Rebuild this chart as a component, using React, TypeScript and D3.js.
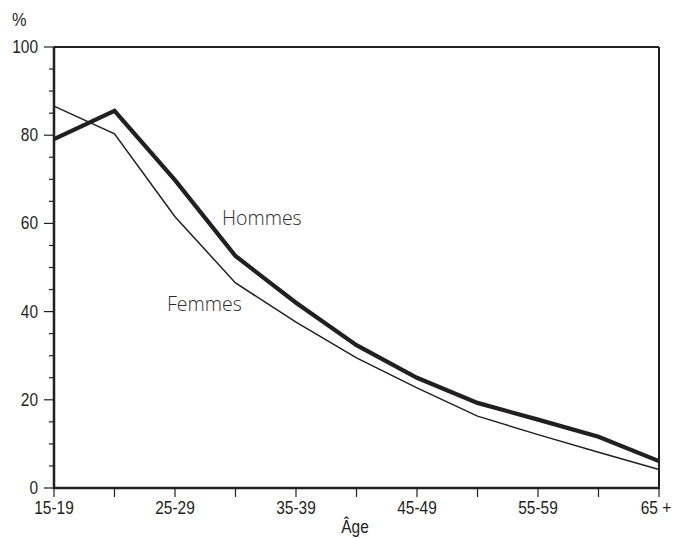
import React from "react";
import * as d3 from "d3";

const categories = ["15-19", "20-24", "25-29", "30-34", "35-39", "40-44", "45-49", "50-54", "55-59", "60-64", "65 +"];
const hommes = [79.1, 85.5, 69.8, 52.6, 42.0, 32.4, 25.0, 19.3, 15.5, 11.6, 6.1];
const femmes = [86.6, 80.3, 61.5, 46.5, 37.6, 29.5, 22.7, 16.3, 12.1, 8.1, 4.2];
const yMajor = [0, 20, 40, 60, 80, 100];
const yMinor = [5, 10, 15, 25, 30, 35, 45, 50, 55, 65, 70, 75, 85, 90, 95];
const shownLabels = ["15-19", "25-29", "35-39", "45-49", "55-59", "65 +"];

const ink = "#231f20";
const tickFont = "'Liberation Sans', Arial, sans-serif";

function CText({ x, y, anchor, children, size = 18 }: { x: number; y: number; anchor: string; children: any; size?: number }) {
  return (
    <text
      transform={`translate(${x},${y}) scale(0.86,1)`}
      textAnchor={anchor}
      fontFamily={tickFont}
      fontSize={size}
      fill={ink}
    >
      {children}
    </text>
  );
}

export default function App() {
  const W = 673, H = 539;
  const left = 54, right = 659, top = 47, bottom = 488;
  const x = d3.scalePoint<string>().domain(categories).range([left, right]);
  const y = d3.scaleLinear().domain([0, 100]).range([bottom, top]);
  const line = d3.line<number>().x((_, i) => x(categories[i])!).y((d) => y(d));
  return (
    <svg width={W} height={H} style={{ position: "absolute", left: 0, top: 0 }}>
      <rect width={W} height={H} fill="#fff" />
      {/* frame */}
      <line x1={left} x2={right} y1={top} y2={top} stroke={ink} strokeWidth={2} />
      <line x1={right} x2={right} y1={top} y2={bottom} stroke={ink} strokeWidth={2} />
      <line x1={left} x2={left} y1={top} y2={bottom + 1} stroke={ink} strokeWidth={2.5} />
      <line x1={left - 1} x2={right + 1} y1={bottom} y2={bottom} stroke={ink} strokeWidth={2.5} />
      {/* y ticks */}
      {yMajor.map((v) => (
        <g key={"M" + v}>
          <line x1={left - 10} x2={left} y1={y(v)} y2={y(v)} stroke={ink} strokeWidth={1.2} />
          <CText x={left - 16} y={y(v) + 6} anchor="end">{v}</CText>
        </g>
      ))}
      {yMinor.map((v) => (
        <line key={"m" + v} x1={left - 5} x2={left} y1={y(v)} y2={y(v)} stroke={ink} strokeWidth={1.2} />
      ))}
      {/* x ticks */}
      {categories.map((c, i) => (
        <g key={c}>
          <line x1={x(c)!} x2={x(c)!} y1={bottom} y2={bottom + 9} stroke={ink} strokeWidth={1.2} />
          {shownLabels.includes(c) && (
            <CText x={x(c)! - (i === categories.length - 1 ? 3 : 0)} y={bottom + 26} anchor="middle">{c}</CText>
          )}
        </g>
      ))}
      <CText x={12} y={26} anchor="start" size={19}>%</CText>
      <CText x={355} y={533} anchor="middle">Âge</CText>
      {/* lines */}
      <path d={line(femmes)!} fill="none" stroke={ink} strokeWidth={1.5} strokeLinejoin="miter" />
      <path d={line(hommes)!} fill="none" stroke={ink} strokeWidth={4.2} strokeLinejoin="miter" />
      <text x={222} y={225} fontFamily="'Open Sans', sans-serif" fontWeight={300} fontSize={19.5} fill="#2b2b2b">Hommes</text>
      <text x={167} y={311} fontFamily="'Open Sans', sans-serif" fontWeight={300} fontSize={19.5} fill="#2b2b2b">Femmes</text>
    </svg>
  );
}
